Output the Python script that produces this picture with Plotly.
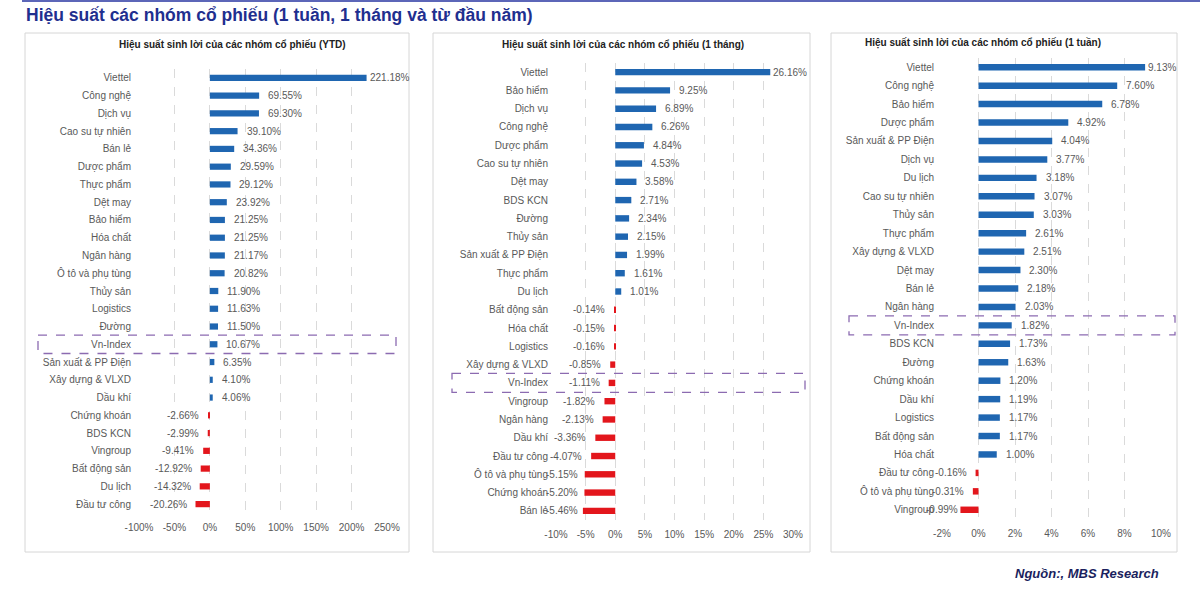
import plotly.graph_objects as go

# ---------------- data ----------------
title_main = "Hiệu suất các nhóm cổ phiếu (1 tuần, 1 tháng và từ đầu năm)"
source_note = "Nguồn:, MBS Research"

titles = [
    "Hiệu suất sinh lời của các nhóm cổ phiếu (YTD)",
    "Hiệu suất sinh lời của các nhóm cổ phiếu (1 tháng)",
    "Hiệu suất sinh lời của các nhóm cổ phiếu (1 tuần)",
]

cats_ytd = ["Viettel", "Công nghệ", "Dịch vụ", "Cao su tự nhiên", "Bán lẻ", "Dược phẩm",
            "Thực phẩm", "Dệt may", "Bảo hiểm", "Hóa chất", "Ngân hàng", "Ô tô và phụ tùng",
            "Thủy sản", "Logistics", "Đường", "Vn-Index", "Sản xuất & PP Điện",
            "Xây dựng & VLXD", "Dầu khí", "Chứng khoán", "BDS KCN", "Vingroup",
            "Bất động sản", "Du lịch", "Đầu tư công"]
vals_ytd = [221.18, 69.55, 69.30, 39.10, 34.36, 29.59, 29.12, 23.92, 21.25, 21.25, 21.17,
            20.82, 11.90, 11.63, 11.50, 10.67, 6.35, 4.10, 4.06, -2.66, -2.99, -9.41,
            -12.92, -14.32, -20.26]
ticks_ytd = [-100, -50, 0, 50, 100, 150, 200, 250]

cats_1m = ["Viettel", "Bảo hiểm", "Dịch vụ", "Công nghệ", "Dược phẩm", "Cao su tự nhiên",
           "Dệt may", "BDS KCN", "Đường", "Thủy sản", "Sản xuất & PP Điện", "Thực phẩm",
           "Du lịch", "Bất động sản", "Hóa chất", "Logistics", "Xây dựng & VLXD",
           "Vn-Index", "Vingroup", "Ngân hàng", "Dầu khí", "Đầu tư công",
           "Ô tô và phụ tùng", "Chứng khoán", "Bán lẻ"]
vals_1m = [26.16, 9.25, 6.89, 6.26, 4.84, 4.53, 3.58, 2.71, 2.34, 2.15, 1.99, 1.61, 1.01,
           -0.14, -0.15, -0.16, -0.85, -1.11, -1.82, -2.13, -3.36, -4.07, -5.15, -5.20, -5.46]
ticks_1m = [-10, -5, 0, 5, 10, 15, 20, 25, 30]

cats_1w = ["Viettel", "Công nghệ", "Bảo hiểm", "Dược phẩm", "Sản xuất & PP Điện", "Dịch vụ",
           "Du lịch", "Cao su tự nhiên", "Thủy sản", "Thực phẩm", "Xây dựng & VLXD",
           "Dệt may", "Bán lẻ", "Ngân hàng", "Vn-Index", "BDS KCN", "Đường", "Chứng khoán",
           "Dầu khí", "Logistics", "Bất động sản", "Hóa chất", "Đầu tư công",
           "Ô tô và phụ tùng", "Vingroup"]
vals_1w = [9.13, 7.60, 6.78, 4.92, 4.04, 3.77, 3.18, 3.07, 3.03, 2.61, 2.51, 2.30, 2.18,
           2.03, 1.82, 1.73, 1.63, 1.20, 1.19, 1.17, 1.17, 1.00, -0.16, -0.31, -0.99]
ticks_1w = [-2, 0, 2, 4, 6, 8, 10]

# ---------------- layout helpers ----------------
W, H = 1200, 597
BLUE = "#1f66b1"
RED = "#e3161c"
GREY = "#595959"
FONT = "Liberation Sans, Arial, sans-serif"
LABEL_SIZE = 10
CHAR_EM = {"-": 0.333, ".": 0.278, "%": 0.889}


def px(x):
    return x / W


def py(y):
    return 1 - y / H


def text_width(s):
    return sum(CHAR_EM.get(ch, 0.556) for ch in s) * LABEL_SIZE


panels = [
    dict(cats=cats_ytd, vals=vals_ytd, ticks=ticks_ytd, plot=(139, 387, 69, 513),
         frame=(25, 409, 33, 552), title_xy=(233, 45), box=(38, 396)),
    dict(cats=cats_1m, vals=vals_1m, ticks=ticks_1m, plot=(556, 793, 63, 520),
         frame=(433, 810, 33, 552), title_xy=(623, 45), box=(452, 805)),
    dict(cats=cats_1w, vals=vals_1w, ticks=ticks_1w, plot=(942, 1161, 58, 519),
         frame=(831, 1177, 33, 552), title_xy=(983, 43), box=(849, 1175)),
]

fig = go.Figure()
shapes = []
annotations = []

for i, p in enumerate(panels):
    n = "" if i == 0 else str(i + 1)
    xa, ya = "x" + n, "y" + n
    x0, x1, y0, y1 = p["plot"]
    cats, vals, ticks = p["cats"], p["vals"], p["ticks"]
    scale = (x1 - x0) / (ticks[-1] - ticks[0])  # px per unit

    fig.add_trace(go.Bar(
        x=vals, y=cats, orientation="h", width=0.35,
        marker=dict(color=[BLUE if v >= 0 else RED for v in vals], line=dict(width=0)),
        xaxis=xa, yaxis=ya, showlegend=False, hoverinfo="skip",
    ))

    layout_x = "xaxis" + n
    layout_y = "yaxis" + n
    fig.update_layout({
        layout_x: dict(
            domain=[px(x0), px(x1)], anchor=ya, range=[ticks[0], ticks[-1]],
            tickvals=ticks, ticktext=[f"{t}%" for t in ticks],
            showgrid=True, gridcolor="#dadada", griddash="dash", gridwidth=1,
            zeroline=False, showline=False, ticks="", automargin=False,
            tickfont=dict(size=10, color=GREY, family=FONT), ticklabelstandoff=7,
            fixedrange=True,
        ),
        layout_y: dict(
            domain=[py(y1), py(y0)], anchor=xa, type="category",
            categoryorder="array", categoryarray=cats, autorange="reversed",
            showgrid=False, zeroline=False, showline=False, ticks="", automargin=False,
            tickfont=dict(size=10, color=GREY, family=FONT), ticklabelstandoff=7,
            fixedrange=True,
        ),
    })

    # value labels (Excel-like outside-end placement, nudged inward near the plot edge)
    vmax = max(vals)
    for c, v in zip(cats, vals):
        txt = f"{v:.2f}%"
        if v >= 0:
            shift, anchor = (1 if v == vmax else 7), "left"
        else:
            anchor = "right"
            bar_end = (v - ticks[0]) * scale  # px from plot left
            left_normal = bar_end - 7 - text_width(txt)
            shift = -7
            if left_normal < -8:
                shift = min(-7 + (-8 - left_normal), 0)
        annotations.append(dict(
            x=v, y=c, xref=xa, yref=ya, text=txt, showarrow=False,
            xanchor=anchor, yanchor="middle", xshift=shift,
            font=dict(size=LABEL_SIZE, color=GREY, family=FONT),
        ))

    # panel frame
    fx0, fx1, fy0, fy1 = p["frame"]
    shapes.append(dict(type="rect", xref="paper", yref="paper",
                       x0=px(fx0), x1=px(fx1), y0=py(fy1), y1=py(fy0),
                       line=dict(color="#d6d6d6", width=1), layer="below"))

    # panel title
    tx, ty = p["title_xy"]
    annotations.append(dict(
        x=px(tx), y=py(ty), xref="paper", yref="paper", text=f"<b>{titles[i]}</b>",
        showarrow=False, xanchor="center", yanchor="middle",
        font=dict(size=10, color="#222222", family=FONT),
    ))

    # dashed Vn-Index highlight
    idx = cats.index("Vn-Index")
    bx0, bx1 = p["box"]
    shapes.append(dict(type="rect", xref="paper", yref=ya,
                       x0=px(bx0), x1=px(bx1), y0=idx - 0.52, y1=idx + 0.52,
                       line=dict(color="#8c6bb1", width=1.3, dash="dash"),
                       fillcolor="rgba(0,0,0,0)"))

# top rule and main title
shapes.append(dict(type="line", xref="paper", yref="paper",
                   x0=px(22), x1=1, y0=py(1), y1=py(1),
                   line=dict(color="#5c66b8", width=2)))
annotations.append(dict(
    x=px(24), y=py(15), xref="paper", yref="paper", text=f"<b>{title_main}</b>",
    showarrow=False, xanchor="left", yanchor="middle",
    font=dict(size=17.5, color="#1f2f8f", family=FONT),
))
annotations.append(dict(
    x=px(1161), y=py(573), xref="paper", yref="paper", text=f"<b><i>{source_note}</i></b>",
    showarrow=False, xanchor="right", yanchor="middle",
    font=dict(size=13, color="#1b1f5e", family=FONT),
))

fig.update_layout(
    width=W, height=H, margin=dict(l=0, r=0, t=0, b=0, autoexpand=False),
    paper_bgcolor="white", plot_bgcolor="white",
    shapes=shapes, annotations=annotations, bargap=0.65,
    font=dict(family=FONT),
)

fig.write_html(
    "out.html",
    config={"displayModeBar": False},
    post_script="document.body.style.margin='0';document.body.style.overflow='hidden';",
)
